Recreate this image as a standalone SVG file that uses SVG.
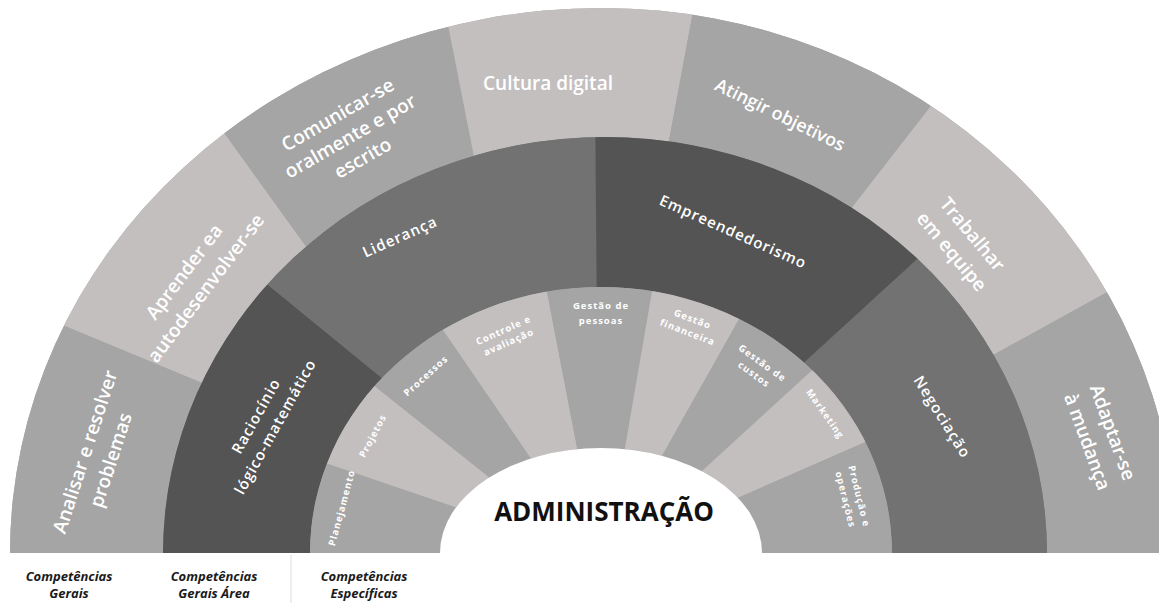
<svg xmlns="http://www.w3.org/2000/svg" width="1159" height="603" viewBox="0 0 1159 603">
<style>
.med{fill:#a5a5a5}.lt{fill:#c3bfbf}.mid{fill:#727272}.dk{fill:#545454}
text{font-family:"Open Sans","DejaVu Sans",sans-serif;text-anchor:middle}
.t1{font-weight:600;font-size:19px;fill:#fff}
.t2{font-weight:600;font-size:15px;fill:#fff;letter-spacing:1px}
.t3{font-weight:700;font-size:9.5px;fill:#fff;letter-spacing:1px}
.title{font-weight:700;font-size:26px;fill:#111}
.cap{font-weight:700;font-style:italic;font-size:13px;fill:#1a1a1a}
</style>
<defs>
<clipPath id="ringO"><path clip-rule="evenodd" d="M10,553 A592,545 0 0 1 602,8 A575,545 0 0 1 1177,553 Z M163,553 A442,416 0 0 1 1047,553 Z"/></clipPath>
<clipPath id="ringM"><path clip-rule="evenodd" d="M163,553 A442,416 0 0 1 1047,553 Z M310,553 A291,266 0 0 1 892,553 Z"/></clipPath>
<clipPath id="ringI"><path clip-rule="evenodd" d="M310,553 A291,266 0 0 1 892,553 Z M440,553 A161,105 0 0 1 762,553 Z"/></clipPath>
</defs>
<rect width="1159" height="603" fill="#fff"/>
<path class="med" d="M10,553 A592,545 0 0 1 602,8 A575,545 0 0 1 1177,553 Z"/>
<path class="mid" d="M163,553 A442,416 0 0 1 1047,553 Z"/>
<path class="med" d="M310,553 A291,266 0 0 1 892,553 Z"/>

<g id="outer-ring" clip-path="url(#ringO)">
<g id="analisar"><polygon class="med" points="-40,600 -7,296 241,399 200,600"/></g>
<g id="aprender"><polygon class="lt" points="-7,296 179,70 328,277 241,399"/></g>
<g id="comunicar"><polygon class="med" points="179,70 436,-36 477,172 328,277"/></g>
<g id="cultura"><polygon class="lt" points="436,-36 703,-42 663,173 477,172"/></g>
<g id="atingir"><polygon class="med" points="703,-42 955,75 829,237 663,173"/></g>
<g id="trabalhar"><polygon class="lt" points="955,75 1158,264 966,370 829,237"/></g>
<g id="adaptar"><polygon class="med" points="1158,264 1250,300 1250,600 1000,600 966,370"/></g>
</g>

<g id="mid-ring" clip-path="url(#ringM)">
<g id="raciocinio"><polygon class="dk" points="140,600 150,200 213,240 421,410 430,600"/></g>
<g id="lideranca"><polygon class="mid" points="213,240 595,90 597,330 421,410"/></g>
<g id="empreendedorismo"><polygon class="dk" points="595,90 960,220 772,392 597,330"/></g>
<g id="negociacao"><polygon class="mid" points="960,220 1080,200 1080,600 760,600 772,392"/></g>
</g>

<g id="inner-ring" clip-path="url(#ringI)">
<g id="planejamento"><polygon class="med" points="280,600 281,448 505,524 505,600"/></g>
<g id="projetos"><polygon class="lt" points="281,448 342,360 528,508 505,524"/></g>
<g id="processos"><polygon class="med" points="342,360 417,292 556,495 528,508"/></g>
<g id="controle"><polygon class="lt" points="417,292 538,245 586,494 556,495"/></g>
<g id="gestao-pessoas"><polygon class="med" points="538,245 660,245 617,494 586,494"/></g>
<g id="gestao-financeira"><polygon class="lt" points="660,245 760,282 640,495 617,494"/></g>
<g id="gestao-custos"><polygon class="med" points="760,282 843,342 667,503 640,495"/></g>
<g id="marketing"><polygon class="lt" points="843,342 902,426 694,517 667,503"/></g>
<g id="producao"><polygon class="med" points="902,426 920,600 694,600 694,517"/></g>
</g>

<g id="center">
<path fill="#fff" d="M440,553 A161,105 0 0 1 762,553 Z"/>
<text class="title" x="604" y="521">ADMINISTRAÇÃO</text>
</g>

<g id="labels-outer">
<text class="t1" transform="translate(98 456) rotate(-72)"><tspan x="0" y="-7">Analisar e resolver</tspan><tspan x="0" y="20">problemas</tspan></text>
<text class="t1" transform="translate(195 280) rotate(-53)"><tspan x="0" y="-7">Aprender ea</tspan><tspan x="0" y="20">autodesenvolver-se</tspan></text>
<text class="t1" transform="translate(350 136) rotate(-30)"><tspan x="0" y="-18">Comunicar-se</tspan><tspan x="0" y="7">oralmente e por</tspan><tspan x="0" y="32">escrito</tspan></text>
<text class="t1" x="548" y="90">Cultura digital</text>
<text class="t1" transform="translate(780 115) rotate(26)" style="font-size:18px"><tspan x="0" y="6">Atingir objetivos</tspan></text>
<text class="t1" transform="translate(962 243) rotate(50)"><tspan x="0" y="-7">Trabalhar</tspan><tspan x="0" y="20">em equipe</tspan></text>
<text class="t1" transform="translate(1100 437) rotate(70)"><tspan x="0" y="-7">Adaptar-se</tspan><tspan x="0" y="20">à mudança</tspan></text>
</g>

<g id="labels-mid">
<text class="t2" transform="translate(265 421) rotate(-61)"><tspan x="0" y="-5">Raciocínio</tspan><tspan x="0" y="17">lógico-matemático</tspan></text>
<text class="t2" transform="translate(400 237) rotate(-24)"><tspan x="0" y="5">Liderança</tspan></text>
<text class="t2" transform="translate(733 232) rotate(24)"><tspan x="0" y="5">Empreendedorismo</tspan></text>
<text class="t2" transform="translate(942 417) rotate(58)"><tspan x="0" y="5">Negociação</tspan></text>
</g>

<g id="labels-inner">
<text class="t3" transform="translate(342 508) rotate(-75)"><tspan x="0" y="3">Planejamento</tspan></text>
<text class="t3" transform="translate(373 436) rotate(-62)"><tspan x="0" y="3">Projetos</tspan></text>
<text class="t3" transform="translate(426 376) rotate(-42)"><tspan x="0" y="3">Processos</tspan></text>
<text class="t3" transform="translate(506 336) rotate(-24)"><tspan x="0" y="-3">Controle e</tspan><tspan x="0" y="10">avaliação</tspan></text>
<text class="t3" x="601" y="309">Gestão de<tspan x="601" y="324">pessoas</tspan></text>
<text class="t3" transform="translate(690 326) rotate(21)"><tspan x="0" y="-4">Gestão</tspan><tspan x="0" y="10">financeira</tspan></text>
<text class="t3" transform="translate(758 369) rotate(36)"><tspan x="0" y="-4">Gestão de</tspan><tspan x="0" y="10">custos</tspan></text>
<text class="t3" transform="translate(825 414) rotate(55)"><tspan x="0" y="3">Marketing</tspan></text>
<text class="t3" transform="translate(852 498) rotate(76)"><tspan x="0" y="-4">Produção e</tspan><tspan x="0" y="10">operações</tspan></text>
</g>

<g id="legend">
<line x1="291" y1="555" x2="291" y2="603" stroke="#dddddd" stroke-width="1"/>
<text class="cap" x="69" y="581">Competências<tspan x="69" y="598">Gerais</tspan></text>
<text class="cap" x="214" y="581">Competências<tspan x="214" y="598">Gerais Área</tspan></text>
<text class="cap" x="364" y="581">Competências<tspan x="364" y="598">Específicas</tspan></text>
</g>
</svg>
